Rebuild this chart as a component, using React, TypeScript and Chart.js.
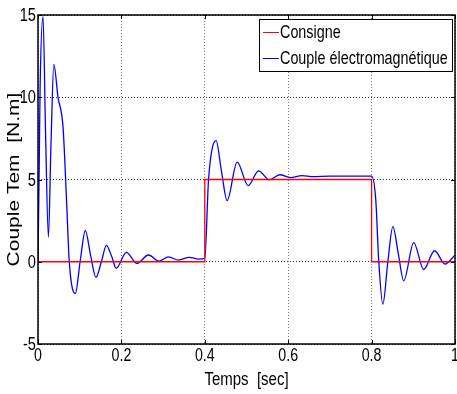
import React, { useEffect, useRef } from "react";
import { Chart, registerables } from "chart.js";
Chart.register(...registerables);

// Couple électromagnétique (blue) — time [s] / torque [N.m]
const coupleT = [
  0, 0.003, 0.005, 0.012, 0.018, 0.025, 0.031, 0.038, 0.048, 0.06, 0.068, 0.075,
  0.0895, 0.101, 0.1135, 0.126, 0.139, 0.152, 0.164, 0.177, 0.1875, 0.212, 0.237,
  0.265, 0.29, 0.313, 0.337, 0.363, 0.385, 0.4, 0.409, 0.427, 0.44, 0.4535, 0.4775,
  0.504, 0.529, 0.555, 0.58, 0.6055, 0.633, 0.66, 0.7, 0.75, 0.8, 0.81, 0.817,
  0.827, 0.839, 0.851, 0.864, 0.877, 0.901, 0.925, 0.951, 0.976, 1.0,
];
const coupleV = [
  0, 6, 10.5, 14.9, 8, 1.5, 7, 12, 10, 8.2, 4, 0,
  -1.93, 0, 1.9, 0.4, -0.95, 0, 1.0, 0.3, -0.4, 0.57, -0.1,
  0.41, 0.04, 0.3, 0.1, 0.27, 0.16, 0.2, 5.0, 7.36, 5.5, 3.72, 6.06,
  4.63, 5.53, 4.98, 5.29, 5.12, 5.24, 5.17, 5.2, 5.2, 5.2, 3.76, 0.1,
  -2.58, 0, 2.13, 0.5, -1.16, 1.16, -0.47, 0.67, -0.14, 0.4,
];
// Consigne (red)
const consigneT = [0, 0.4, 0.4, 0.8, 0.8, 1];
const consigneV = [0, 0, 5, 5, 0, 0];

const xTicks = [0, 0.2, 0.4, 0.6, 0.8, 1];
const yTicks = [-5, 0, 5, 10, 15];
const legendLabels = ["Consigne", "Couple électromagnétique"];
const seriesColors = ["#ff0000", "#0000ff"];
const xTitle = "Temps  [sec]";
const yTitle = "Couple Tem  [N.m]";

const FONT = "'Liberation Sans', Arial, sans-serif";
const SX = 0.79; // horizontal squeeze of the whole figure

function drawText(ctx: any, text: string, x: number, y: number, align: string, size: number) {
  ctx.save();
  ctx.font = `${size}px ${FONT}`;
  ctx.textBaseline = "middle";
  ctx.textAlign = align;
  ctx.translate(x, y);
  ctx.scale(SX, 1);
  ctx.fillText(text, 0, 0);
  ctx.restore();
}

const decorPlugin = {
  id: "decor",
  afterDraw(chart: any) {
    const { ctx, chartArea } = chart;
    const { left, right, top, bottom } = chartArea;
    const xs = chart.scales.x;
    const ys = chart.scales.y;
    ctx.save();
    // frame
    ctx.strokeStyle = "#000";
    ctx.lineWidth = 1.5;
    ctx.strokeRect(left, top, right - left, bottom - top);
    // inward ticks
    ctx.lineWidth = 1;
    ctx.beginPath();
    xs.ticks.forEach((t: any) => {
      const p = Math.round(xs.getPixelForValue(t.value)) + 0.5;
      ctx.moveTo(p, bottom);
      ctx.lineTo(p, bottom - 4);
      ctx.moveTo(p, top);
      ctx.lineTo(p, top + 4);
    });
    ys.ticks.forEach((t: any) => {
      const p = Math.round(ys.getPixelForValue(t.value)) + 0.5;
      ctx.moveTo(left, p);
      ctx.lineTo(left + 4, p);
      ctx.moveTo(right, p);
      ctx.lineTo(right - 4, p);
    });
    ctx.stroke();

    // tick labels (from the library's scales)
    ctx.fillStyle = "#000";
    xs.ticks.forEach((t: any) => {
      const p = xs.getPixelForValue(t.value);
      drawText(ctx, String(Math.round(t.value * 10) / 10), p, bottom + 12, "center", 18);
    });
    ys.ticks.forEach((t: any) => {
      const p = ys.getPixelForValue(t.value);
      drawText(ctx, String(t.value), left - 2, p + 1, "right", 18.5);
    });

    // legend
    const lx = 259.5, ly = 19.5, lw = 193, lh = 52;
    ctx.fillStyle = "#fff";
    ctx.fillRect(lx, ly, lw, lh);
    ctx.strokeStyle = "#000";
    ctx.lineWidth = 1;
    ctx.strokeRect(lx, ly, lw, lh);
    legendLabels.forEach((lab, i) => {
      const y = 32.5 + i * 26;
      ctx.strokeStyle = seriesColors[i];
      ctx.beginPath();
      ctx.moveTo(263, y);
      ctx.lineTo(279, y);
      ctx.stroke();
      ctx.fillStyle = "#000";
      drawText(ctx, lab, 280, y, "left", 18.2);
    });

    // titles
    ctx.fillStyle = "#000";
    drawText(ctx, xTitle, (left + right) / 2, 380, "center", 19);
    ctx.save();
    ctx.translate(14, (top + bottom) / 2);
    ctx.scale(SX, 1);
    ctx.rotate(-Math.PI / 2);
    ctx.font = `21px ${FONT}`;
    ctx.textAlign = "center";
    ctx.textBaseline = "middle";
    ctx.fillText(yTitle, 0, 0);
    ctx.restore();
    ctx.restore();
  },
};

export default function App() {
  const ref = useRef<HTMLCanvasElement>(null);
  useEffect(() => {
    document.body.style.margin = "0";
    const chart = new Chart(ref.current!, {
      type: "line",
      data: {
        datasets: [
          {
            label: legendLabels[0],
            data: consigneT.map((t, i) => ({ x: t, y: consigneV[i] })),
            borderColor: seriesColors[0],
            borderWidth: 1.3,
            pointRadius: 0,
            tension: 0,
          },
          {
            label: legendLabels[1],
            data: coupleT.map((t, i) => ({ x: t, y: coupleV[i] })),
            borderColor: seriesColors[1],
            borderWidth: 1.3,
            pointRadius: 0,
            cubicInterpolationMode: "monotone",
          },
        ],
      },
      options: {
        animation: false,
        responsive: false,
        maintainAspectRatio: false,
        layout: { padding: { left: 0, right: 2, top: 15, bottom: 0 } },
        plugins: { legend: { display: false }, tooltip: { enabled: false } },
        scales: {
          x: {
            type: "linear",
            min: 0,
            max: 1,
            afterBuildTicks: (s: any) => {
              s.ticks = xTicks.map((v) => ({ value: v }));
            },
            afterFit: (s: any) => {
              s.height = 50;
              s.paddingLeft = 0;
              s.paddingRight = 0;
            },
            ticks: { display: false, autoSkip: false },
            grid: { color: "#777", drawTicks: false, lineWidth: 1 },
            border: { display: false, dash: [1, 2] },
          },
          y: {
            type: "linear",
            min: -5,
            max: 15,
            afterBuildTicks: (s: any) => {
              s.ticks = yTicks.map((v) => ({ value: v }));
            },
            afterFit: (s: any) => {
              s.width = 38;
              s.paddingTop = 0;
              s.paddingBottom = 0;
            },
            ticks: { display: false, autoSkip: false },
            grid: { color: "#333", drawTicks: false, lineWidth: 1 },
            border: { display: false, dash: [1, 2] },
          },
        },
      },
      plugins: [decorPlugin],
    } as any);
    return () => chart.destroy();
  }, []);
  return (
    <div style={{ position: "absolute", left: 0, top: 0, width: 457, height: 394 }}>
      <canvas ref={ref} width={457} height={394} style={{ width: 457, height: 394 }} />
    </div>
  );
}
